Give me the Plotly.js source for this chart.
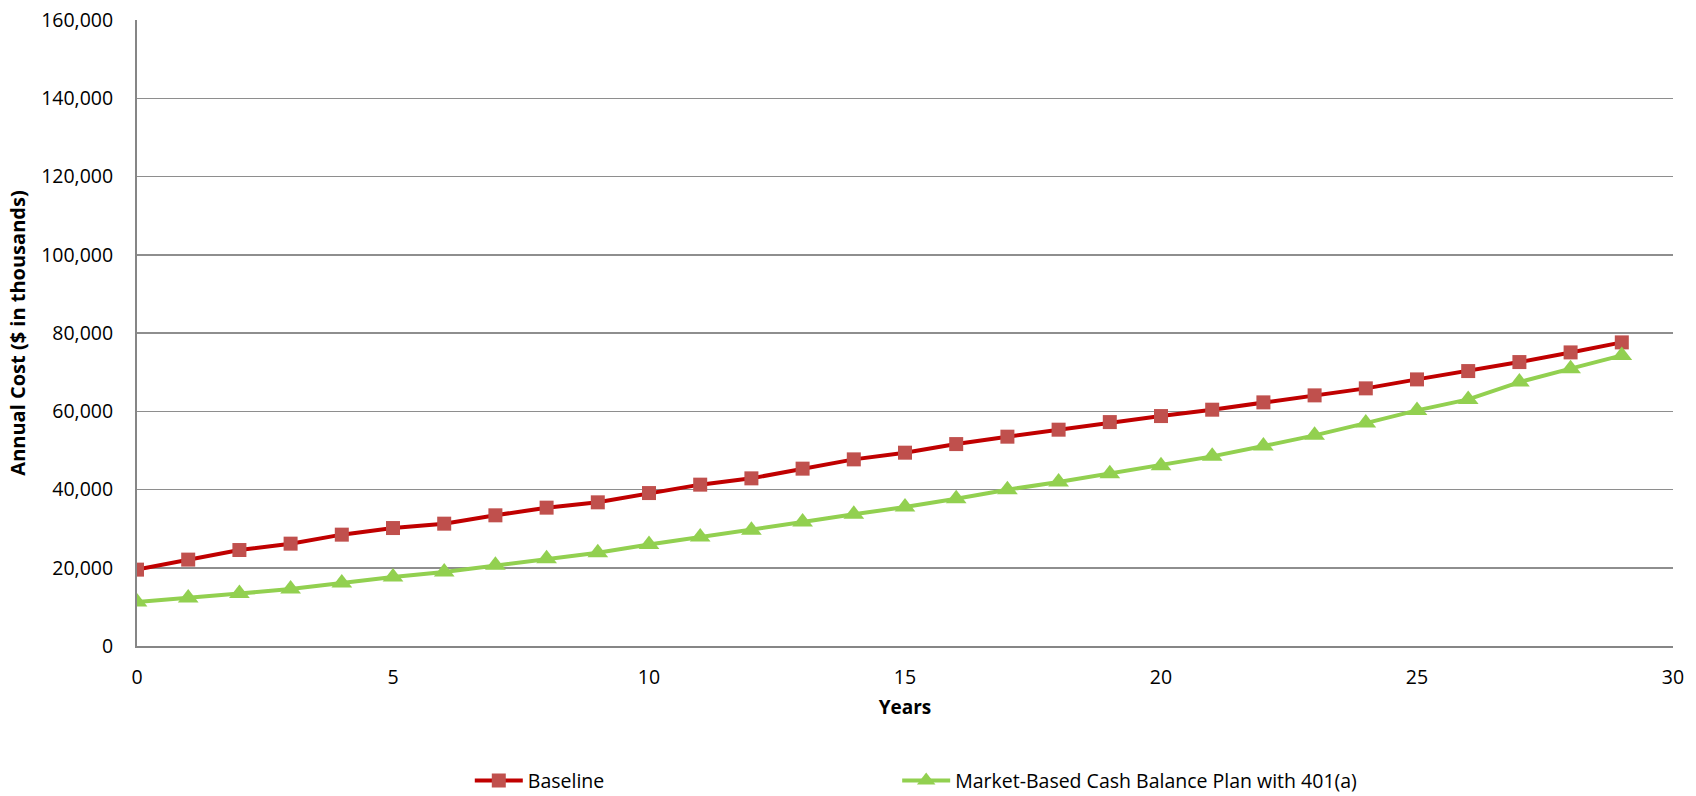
<!DOCTYPE html>
<html>
<head>
<meta charset="utf-8">
<script src="https://cdn.plot.ly/plotly-3.0.1.min.js"></script>
<style>
  html, body { margin: 0; padding: 0; background: #ffffff; }
  #chart { width: 1696px; height: 796px; }
</style>
</head>
<body>
<div id="chart"></div>
<script>
// Projection years
const years = [0, 1, 2, 3, 4, 5, 6, 7, 8, 9, 10, 11, 12, 13, 14, 15, 16, 17, 18, 19,
               20, 21, 22, 23, 24, 25, 26, 27, 28, 29];

// Annual cost, $ in thousands
const baseline = [19520, 22080, 24530, 26160, 28460, 30150, 31270, 33400, 35360, 36720,
                  39090, 41240, 42850, 45330, 47700, 49410, 51610, 53500, 55290, 57230,
                  58770, 60400, 62270, 64060, 65850, 68140, 70270, 72570, 75040, 77600];

const cashBalance = [11240, 12260, 13390, 14560, 16100, 17630, 18910, 20620, 22330, 23860,
                     25950, 27850, 29560, 31680, 33650, 35520, 37660, 39960, 41900, 44050,
                     46100, 48470, 51100, 53840, 56980, 60220, 63030, 67460, 70880, 74280];

const seriesNames = ['Baseline', 'Market-Based Cash Balance Plan with 401(a)'];
const yTicks = [0, 20000, 40000, 60000, 80000, 100000, 120000, 140000, 160000];
const xTicks = [0, 5, 10, 15, 20, 25, 30];

const fontFamily = '"Open Sans", "Noto Sans", "DejaVu Sans", sans-serif';

const traces = [
  {
    x: years,
    y: baseline,
    name: seriesNames[0],
    type: 'scatter',
    mode: 'lines+markers',
    legend: 'legend',
    line: { color: '#C00000', width: 4 },
    marker: { symbol: 'square', size: 14, color: '#C0504D' }
  },
  {
    x: years,
    y: cashBalance,
    name: seriesNames[1],
    type: 'scatter',
    mode: 'lines+markers',
    legend: 'legend2',
    line: { color: '#92D050', width: 4 },
    marker: { symbol: 'triangle-up', size: 18, color: '#92D050' }
  }
];

// Shared look for the two bottom legend entries
function legendAt(x) {
  return {
    orientation: 'h',
    xref: 'container',
    yref: 'container',
    x: x,
    xanchor: 'left',
    y: 0.019,
    yanchor: 'middle',
    itemwidth: 48,
    font: { family: fontFamily, size: 19.5, color: '#000000' },
    bgcolor: 'rgba(0,0,0,0)'
  };
}

const layout = {
  width: 1696,
  height: 796,
  margin: { l: 137, r: 23, t: 20, b: 150 },
  paper_bgcolor: '#ffffff',
  plot_bgcolor: '#ffffff',
  font: { family: fontFamily, color: '#000000', size: 19 },
  showlegend: true,
  legend: legendAt(0.277),
  legend2: legendAt(0.529),
  xaxis: {
    range: [0, 30],
    tickvals: xTicks,
    ticktext: xTicks.map(String),
    showgrid: false,
    zeroline: false,
    showline: true,
    linecolor: '#868686',
    linewidth: 2,
    ticks: '',
    ticklabelstandoff: 13,
    tickfont: { family: fontFamily, size: 19.5, color: '#000000' },
    title: {
      text: 'Years',
      font: { family: fontFamily, size: 19, color: '#000000', weight: 'bold' },
      standoff: 11
    }
  },
  yaxis: {
    range: [0, 160000],
    tickvals: yTicks,
    ticktext: yTicks.map(v => v.toLocaleString('en-US')),
    showgrid: true,
    gridcolor: '#8e8e8e',
    gridwidth: 1.5,
    zeroline: false,
    showline: true,
    linecolor: '#868686',
    linewidth: 2,
    ticks: '',
    ticklabelstandoff: 18,
    tickfont: { family: fontFamily, size: 19.5, color: '#000000' },
    title: {
      text: 'Annual Cost ($ in thousands)',
      font: { family: fontFamily, size: 20, color: '#000000', weight: 'bold' },
      standoff: 10
    }
  }
};

Plotly.newPlot('chart', traces, layout, { displayModeBar: false, staticPlot: true });
</script>
</body>
</html>
